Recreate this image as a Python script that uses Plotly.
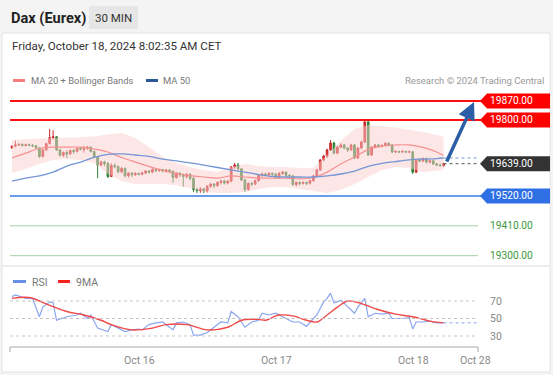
import plotly.graph_objects as go

W, H = 553, 375

# ---------------- data ----------------
opens = [19697, 19704, 19708, 19710, 19706, 19709, 19707, 19705, 19697, 19666,
         19690, 19713, 19735, 19738, 19690, 19670, 19680, 19675, 19688, 19684,
         19696, 19692, 19697, 19700, 19684, 19664, 19634, 19645, 19640, 19592,
         19632, 19628, 19609, 19622, 19595, 19604, 19598, 19603, 19600, 19605,
         19612, 19608, 19618, 19614, 19617, 19612, 19616, 19611, 19588, 19604,
         19598, 19592, 19600, 19585, 19544, 19540, 19546, 19538, 19556, 19564,
         19558, 19570, 19575, 19568, 19575, 19627, 19634, 19620, 19579, 19544,
         19566, 19564, 19577, 19596, 19601, 19597, 19603, 19600, 19588, 19603,
         19608, 19596, 19594, 19562, 19570, 19566, 19570, 19567, 19577, 19594,
         19616, 19653, 19667, 19690, 19715, 19678, 19700, 19708, 19697, 19690,
         19708, 19660, 19697, 19719, 19793, 19671, 19700, 19708, 19704, 19706,
         19714, 19708, 19682, 19684, 19682, 19684, 19682, 19683, 19608, 19653,
         19649, 19658, 19645, 19650, 19638, 19634, 19632]
highs = [19706, 19724, 19714, 19714, 19712, 19713, 19711, 19708, 19699, 19693,
         19716, 19767, 19762, 19740, 19694, 19684, 19688, 19691, 19693, 19700,
         19700, 19704, 19704, 19702, 19688, 19667, 19650, 19650, 19645, 19640,
         19640, 19632, 19626, 19625, 19608, 19608, 19608, 19606, 19610, 19616,
         19616, 19622, 19622, 19621, 19620, 19619, 19618, 19614, 19608, 19608,
         19603, 19604, 19603, 19590, 19550, 19552, 19550, 19560, 19568, 19568,
         19574, 19580, 19580, 19580, 19630, 19642, 19642, 19623, 19583, 19570,
         19572, 19580, 19600, 19606, 19606, 19608, 19607, 19605, 19608, 19612,
         19610, 19600, 19598, 19574, 19574, 19574, 19573, 19580, 19598, 19620,
         19656, 19672, 19694, 19726, 19720, 19706, 19714, 19712, 19700, 19712,
         19712, 19700, 19724, 19798, 19798, 19704, 19712, 19712, 19711, 19718,
         19718, 19711, 19688, 19687, 19688, 19687, 19687, 19686, 19656, 19660,
         19662, 19662, 19655, 19654, 19642, 19640, 19643]
lows = [19694, 19700, 19704, 19702, 19703, 19703, 19700, 19694, 19660, 19662,
        19686, 19710, 19728, 19686, 19665, 19664, 19660, 19672, 19676, 19680,
        19688, 19680, 19690, 19680, 19660, 19586, 19630, 19630, 19586, 19590,
        19622, 19604, 19604, 19588, 19588, 19590, 19594, 19596, 19596, 19600,
        19603, 19604, 19608, 19609, 19607, 19606, 19605, 19568, 19584, 19590,
        19555, 19585, 19578, 19535, 19531, 19532, 19531, 19533, 19550, 19550,
        19554, 19562, 19562, 19563, 19570, 19620, 19614, 19575, 19535, 19540,
        19557, 19560, 19572, 19590, 19592, 19594, 19594, 19584, 19585, 19598,
        19590, 19588, 19558, 19556, 19560, 19562, 19560, 19562, 19572, 19590,
        19612, 19648, 19660, 19686, 19674, 19674, 19696, 19692, 19682, 19686,
        19656, 19656, 19692, 19715, 19667, 19668, 19696, 19698, 19699, 19702,
        19703, 19678, 19678, 19678, 19679, 19678, 19678, 19601, 19604, 19644,
        19645, 19640, 19640, 19634, 19630, 19628, 19628]
closes = [19704, 19708, 19710, 19706, 19709, 19707, 19705, 19697, 19666, 19690,
          19713, 19735, 19738, 19690, 19670, 19680, 19675, 19688, 19684, 19696,
          19692, 19697, 19700, 19684, 19664, 19634, 19645, 19640, 19592, 19632,
          19628, 19609, 19622, 19595, 19604, 19598, 19603, 19600, 19605, 19612,
          19608, 19618, 19614, 19617, 19612, 19616, 19611, 19588, 19604, 19598,
          19592, 19600, 19585, 19544, 19540, 19546, 19538, 19556, 19564, 19558,
          19570, 19575, 19568, 19575, 19627, 19634, 19620, 19579, 19544, 19566,
          19564, 19577, 19596, 19601, 19597, 19603, 19600, 19588, 19603, 19608,
          19596, 19594, 19562, 19570, 19566, 19570, 19567, 19577, 19594, 19616,
          19653, 19667, 19690, 19715, 19678, 19700, 19708, 19697, 19690, 19708,
          19660, 19697, 19719, 19793, 19671, 19700, 19708, 19704, 19706, 19714,
          19708, 19682, 19684, 19682, 19684, 19682, 19683, 19608, 19653, 19649,
          19658, 19645, 19650, 19638, 19634, 19632, 19639]

ind_bars = [0, 4, 8, 12, 16, 20, 24, 28, 32, 36, 40, 44, 48, 52, 56, 60, 64,
            68, 72, 76, 80, 84, 88, 92, 96, 100, 104, 108, 112, 116, 120, 124, 126]
ma20 = [19660, 19678, 19695, 19700, 19700, 19700, 19693, 19682, 19662, 19645,
        19629, 19614, 19603, 19595, 19590, 19586, 19594, 19590, 19586, 19586,
        19586, 19583, 19588, 19608, 19638, 19664, 19691, 19704, 19708, 19708,
        19699, 19682, 19669]
ma50 = [19575, 19586, 19594, 19608, 19630, 19645, 19662, 19673, 19675, 19671,
        19666, 19656, 19649, 19642, 19634, 19625, 19616, 19608, 19599, 19592,
        19590, 19590, 19590, 19594, 19601, 19612, 19629, 19640, 19647, 19653,
        19656, 19658, 19660]
bb_upper = [19726, 19730, 19732, 19734, 19734, 19736, 19739, 19747, 19752, 19734,
            19700, 19664, 19642, 19627, 19616, 19608, 19627, 19638, 19630, 19627,
            19627, 19623, 19623, 19671, 19723, 19767, 19782, 19778, 19771, 19763,
            19756, 19745, 19737]
bb_lower = [19605, 19619, 19638, 19653, 19656, 19653, 19642, 19601, 19575, 19564,
            19564, 19564, 19560, 19549, 19535, 19531, 19531, 19535, 19546, 19553,
            19553, 19546, 19538, 19531, 19542, 19564, 19590, 19616, 19627, 19623,
            19608, 19612, 19616]

rsi_bars = [0, 1, 4, 6, 8, 9, 11, 12, 13, 16, 19, 20, 22, 23, 25, 28, 29, 31, 33,
            35, 37, 38, 40, 42, 44, 47, 48, 50, 52, 53, 55, 57, 59, 61, 63, 64, 66,
            68, 70, 72, 73, 75, 77, 78, 82, 84, 86, 88, 89, 91, 92, 93, 94, 95, 96,
            100, 101, 103, 104, 106, 108, 110, 111, 114, 116, 117, 118, 120, 122,
            124, 126]
rsi_vals = [75, 77, 73, 73, 52, 63, 69, 68, 48, 52, 54, 56, 50, 54, 39, 35, 43, 39,
            35, 37, 38, 37, 43, 45, 46, 37, 45, 46, 43, 31, 31, 34, 40, 46, 45, 58,
            52, 40, 46, 48, 56, 54, 56, 54, 46, 46, 41, 50, 54, 69, 73, 79, 68, 69,
            71, 56, 63, 73, 52, 56, 55, 56, 50, 50, 51, 38, 46, 46, 47, 45, 45]
ma9_bars = [0, 5, 11, 16, 21, 26, 29, 35, 41, 45, 51, 57, 63, 67, 72, 74, 77, 78,
            82, 86, 89, 92, 95, 98, 102, 107, 112, 117, 122, 126]
ma9_vals = [73, 74, 65, 58, 54, 48, 43, 37, 39, 43, 43, 37, 40, 48, 49, 48, 53, 54,
            53, 48, 46, 54, 63, 70, 67, 60, 55, 52, 47, 45]

tick_bars = [37.1, 77.1, 117.1, 135.2]
tick_labels = ["Oct 16", "Oct 17", "Oct 18", "Oct 28"]

resistance_levels = [19870.0, 19800.0]
support_level = 19520.0
target_levels = [19410.0, 19300.0]
last_price = 19639.0
rsi_grid = [70, 50, 30]

# ---------------- layout helpers ----------------
PX_BAR0, PX_PER_BAR = 12, 3.425
PLOT_L, PLOT_R = 10, 478
MAIN_TOP, MAIN_BOT = 90, 262
PRICE_RANGE = [19276.8, 19910.5]
RSI_TOP, RSI_BOT = 285, 347
RSI_RANGE = [17.43, 88.29]
PRICE_PER_PX = (PRICE_RANGE[1] - PRICE_RANGE[0]) / (MAIN_BOT - MAIN_TOP)


def fx(px):
    return px / W


def fy(py):
    return 1 - py / H


def bar_at(px):
    return (px - PX_BAR0) / PX_PER_BAR


def price_at(py):
    return PRICE_RANGE[1] - (py - MAIN_TOP) * PRICE_PER_PX


FONT = "Roboto, Arial, sans-serif"
bars = list(range(len(closes)))
x_end = bar_at(PLOT_R)

fig = go.Figure()

# Bollinger band fill
fig.add_trace(go.Scatter(x=ind_bars, y=bb_lower, mode="lines", line=dict(width=0),
                         hoverinfo="skip", showlegend=False))
fig.add_trace(go.Scatter(x=ind_bars, y=bb_upper, mode="lines", line=dict(width=0),
                         fill="tonexty", fillcolor="rgba(252,205,205,0.5)",
                         hoverinfo="skip", showlegend=False))
fig.add_trace(go.Scatter(x=ind_bars, y=ma20, mode="lines",
                         line=dict(color="#f59090", width=1.2, shape="spline"),
                         showlegend=False))
fig.add_trace(go.Scatter(x=ind_bars, y=ma50, mode="lines",
                         line=dict(color="#7396d6", width=1.3, shape="spline"),
                         showlegend=False))

fig.add_trace(go.Candlestick(
    x=bars, open=opens, high=highs, low=lows, close=closes,
    increasing=dict(line=dict(color="#c62828", width=1), fillcolor="#e53935"),
    decreasing=dict(line=dict(color="#2e7d32", width=1), fillcolor="#388e3c"),
    whiskerwidth=0, showlegend=False))

# RSI panel
fig.add_trace(go.Scatter(x=rsi_bars, y=rsi_vals, mode="lines", yaxis="y2",
                         line=dict(color="#8aa6ee", width=1.2), showlegend=False))
fig.add_trace(go.Scatter(x=ma9_bars, y=ma9_vals, mode="lines", yaxis="y2",
                         line=dict(color="#f24848", width=1.4, shape="spline"),
                         showlegend=False))

shapes = []
# background panels
shapes.append(dict(type="rect", xref="paper", yref="paper", x0=fx(2), x1=fx(550),
                   y0=fy(372), y1=fy(33), fillcolor="white",
                   line=dict(color="#e2e2e2", width=1), layer="below"))
shapes.append(dict(type="rect", xref="paper", yref="paper", x0=fx(89), x1=fx(138),
                   y0=fy(29), y1=fy(6), fillcolor="#e6e6e6", line=dict(width=0),
                   layer="below"))
shapes.append(dict(type="line", xref="paper", yref="paper", x0=fx(2), x1=fx(550),
                   y0=fy(266), y1=fy(266), line=dict(color="#ededed", width=2),
                   layer="below"))

# level lines
for lv in resistance_levels:
    shapes.append(dict(type="line", xref="paper", yref="y", x0=fx(PLOT_L), x1=fx(481),
                       y0=lv, y1=lv, line=dict(color="#ff1010", width=2)))
shapes.append(dict(type="line", xref="paper", yref="y", x0=fx(PLOT_L), x1=fx(481),
                   y0=support_level, y1=support_level,
                   line=dict(color="#3a7be6", width=1.5)))
for lv in target_levels:
    shapes.append(dict(type="line", xref="paper", yref="y", x0=fx(PLOT_L), x1=fx(478),
                       y0=lv, y1=lv, line=dict(color="#9fd49f", width=1)))

# last price / MA50 dotted extensions
shapes.append(dict(type="line", xref="x", yref="y", x0=bars[-1], x1=x_end,
                   y0=last_price, y1=last_price,
                   line=dict(color="#555555", width=1, dash="dot")))
shapes.append(dict(type="line", xref="x", yref="y", x0=ind_bars[-1], x1=x_end,
                   y0=ma50[-1], y1=ma50[-1],
                   line=dict(color="#7396d6", width=1, dash="dot")))

# tag labels
tag_h = 7.5 * PRICE_PER_PX
tags = [(resistance_levels[0], "#ff0000"), (resistance_levels[1], "#ff0000"),
        (last_price, "#333333"), (support_level, "#2f6fe4")]
annotations = []
for lv, col in tags:
    path = (f"M {fx(480)},{lv} L {fx(487)},{lv + tag_h} L {fx(550)},{lv + tag_h} "
            f"L {fx(550)},{lv - tag_h} L {fx(487)},{lv - tag_h} Z")
    shapes.append(dict(type="path", xref="paper", yref="y", path=path,
                       fillcolor=col, line=dict(width=0)))
    annotations.append(dict(x=fx(488), y=lv, xref="paper", yref="y", xanchor="left",
                            yanchor="middle", text=f"{lv:.2f}", showarrow=False,
                            font=dict(family=FONT, size=10.2, color="white")))
for lv in target_levels:
    annotations.append(dict(x=fx(488), y=lv, xref="paper", yref="y", xanchor="left",
                            yanchor="middle", text=f"{lv:.2f}", showarrow=False,
                            font=dict(family=FONT, size=10.2, color="#3c9a3c")))

# RSI gridlines & labels
for g in rsi_grid:
    shapes.append(dict(type="line", xref="paper", yref="y2", x0=fx(PLOT_L), x1=fx(PLOT_R),
                       y0=g, y1=g, line=dict(color="#c4c4c4", width=1, dash="dot")))
    annotations.append(dict(x=fx(488), y=g, xref="paper", yref="y2", xanchor="left",
                            yanchor="middle", text=str(g), showarrow=False,
                            font=dict(family=FONT, size=10.5, color="#888888")))
shapes.append(dict(type="line", xref="x", yref="y2", x0=rsi_bars[-1], x1=x_end,
                   y0=rsi_vals[-1], y1=rsi_vals[-1],
                   line=dict(color="#8aa6ee", width=1, dash="dot")))

# x axis line with end brackets
shapes.append(dict(type="line", xref="paper", yref="paper", x0=fx(PLOT_L), x1=fx(PLOT_R),
                   y0=fy(347), y1=fy(347), line=dict(color="#a8a8a8", width=1)))
for px in (PLOT_L, PLOT_R):
    shapes.append(dict(type="line", xref="paper", yref="paper", x0=fx(px), x1=fx(px),
                       y0=fy(347), y1=fy(352), line=dict(color="#a8a8a8", width=1)))
for tb, tl in zip(tick_bars, tick_labels):
    annotations.append(dict(x=tb, y=fy(360), xref="x", yref="paper", xanchor="center",
                            yanchor="middle", text=tl, showarrow=False,
                            font=dict(family=FONT, size=10.5, color="#888888")))

# legends / header texts
shapes.append(dict(type="rect", xref="paper", yref="paper", x0=fx(13), x1=fx(25),
                   y0=fy(82), y1=fy(79), fillcolor="#f47c7c", line=dict(width=0)))
shapes.append(dict(type="rect", xref="paper", yref="paper", x0=fx(146), x1=fx(158),
                   y0=fy(82), y1=fy(79), fillcolor="#2d5a9e", line=dict(width=0)))
shapes.append(dict(type="rect", xref="paper", yref="paper", x0=fx(13), x1=fx(26),
                   y0=fy(283), y1=fy(280), fillcolor="#6a8fe6", line=dict(width=0)))
shapes.append(dict(type="rect", xref="paper", yref="paper", x0=fx(58), x1=fx(70),
                   y0=fy(283), y1=fy(280), fillcolor="#ff2020", line=dict(width=0)))


def label(px, py, text, size, color, anchor="left"):
    annotations.append(dict(x=fx(px), y=fy(py), xref="paper", yref="paper",
                            xanchor=anchor, yanchor="middle", text=text,
                            showarrow=False,
                            font=dict(family=FONT, size=size, color=color)))


label(9, 18, "<b>Dax (Eurex)</b>", 14.6, "#222222")
label(113.5, 18, "30 MIN", 11.5, "#333333", "center")
label(10, 46, "Friday, October 18, 2024 8:02:35 AM CET", 11.6, "#333333")
label(29, 81, "MA 20 + Bollinger Bands", 9.4, "#777777")
label(161, 81, "MA 50", 9.4, "#777777")
label(546, 81, "Research © 2024 Trading Central", 9.5, "#999999", "right")
label(30, 282, "RSI", 10.5, "#777777")
label(74, 282, "9MA", 10.5, "#777777")

# arrow
annotations.append(dict(x=bar_at(474), y=price_at(102), xref="x", yref="y",
                        ax=bar_at(446), ay=price_at(163), axref="x", ayref="y",
                        text="", showarrow=True, arrowhead=2, arrowsize=1,
                        arrowwidth=3.5, arrowcolor="#2b5ea7", standoff=0))

fig.update_layout(
    width=W, height=H, margin=dict(l=0, r=0, t=0, b=0),
    paper_bgcolor="#f4f4f4", plot_bgcolor="rgba(0,0,0,0)",
    showlegend=False, hovermode=False,
    xaxis=dict(domain=[fx(PLOT_L), fx(PLOT_R)], range=[bar_at(PLOT_L), x_end],
               visible=False, rangeslider=dict(visible=False), anchor="y2"),
    yaxis=dict(domain=[fy(MAIN_BOT), fy(MAIN_TOP)], range=PRICE_RANGE, visible=False),
    yaxis2=dict(domain=[fy(RSI_BOT), fy(RSI_TOP)], range=RSI_RANGE, visible=False),
    shapes=shapes, annotations=annotations,
)

fig.write_html("out.html", config={"displayModeBar": False},
               post_script="document.body.style.margin='0px';"
                           "document.body.style.overflow='hidden';")
